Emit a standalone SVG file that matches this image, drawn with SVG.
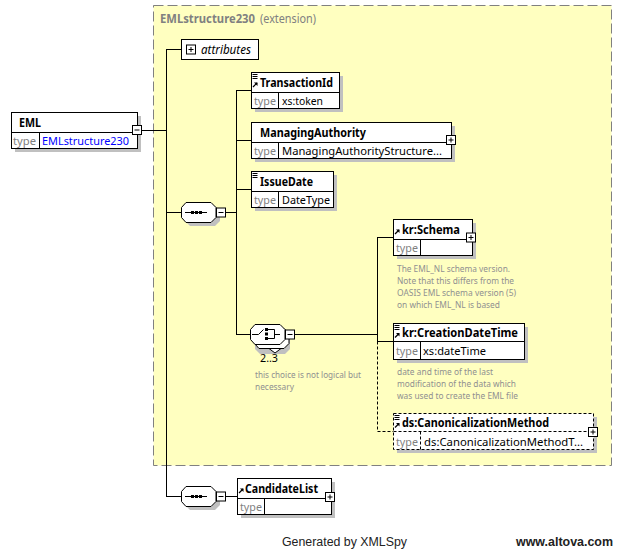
<svg xmlns="http://www.w3.org/2000/svg" width="622" height="549" viewBox="0 0 622 549">
<defs>
<style>
.bg{fill:#fff}
.box{fill:#fff;stroke:#000;stroke-width:1}
.dbox{fill:#fff;stroke:#000;stroke-width:1;stroke-dasharray:3,2}
.sh{fill:#c0c0c0}
.ln{stroke:#000;stroke-width:1;fill:none}
.dl{stroke:#000;stroke-width:1;fill:none;stroke-dasharray:3,2}
.nm{font-family:"Noto Sans","Liberation Sans",sans-serif;font-size:12px;font-weight:bold;fill:#000}
.tl{font-family:"Noto Sans","Liberation Sans",sans-serif;font-size:11.5px;fill:#808080}
.tv{font-family:"Noto Sans","Liberation Sans",sans-serif;font-size:11.5px;fill:#000}
.ann{font-family:"Noto Sans","Liberation Sans",sans-serif;font-size:9px;fill:#909090}
.ft{font-family:"Liberation Sans",Arial,sans-serif;font-size:12.5px;fill:#222}
</style>
<g id="plus"><rect x="0.5" y="0.5" width="9" height="9" class="box"/><path d="M2.5,5H7.5M5,2.5V7.5" class="ln"/></g>
<g id="minus"><rect x="0.5" y="0.5" width="9" height="9" class="box"/><path d="M2.5,5H7.5" class="ln"/></g>
<g id="lst"><path d="M0,0.5H5M0,2.5H5M0,4.5H5" stroke="#000" stroke-width="1"/></g>
<g id="ref"><path d="M0.5,5.5L4.5,1.5" stroke="#000" stroke-width="1.2"/><path d="M1.5,1H5V4.5Z" fill="#000"/></g>
</defs>
<rect width="622" height="549" class="bg"/>

<g id="extension">
<rect x="153.5" y="5.5" width="458" height="460" fill="#ffffc0" stroke="#808080" stroke-dasharray="10,4"/>
<text x="160" y="23" font-family="Noto Sans, Liberation Sans, sans-serif" font-size="12px" fill="#808080"><tspan font-weight="bold" textLength="95" lengthAdjust="spacingAndGlyphs">EMLstructure230</tspan><tspan x="260" textLength="56" lengthAdjust="spacingAndGlyphs">(extension)</tspan></text>
</g>

<g id="connectors">
<path class="ln" d="M142,130.5H166.5M166.5,49V496.5M166,49.5H181M166,212.5H181M166,496.5H181"/>
<path class="ln" d="M226,212.5H236.5M236.5,90V334.5M236,90.5H251M236,140.5H251M236,189.5H251M236,334.5H250"/>
<path class="ln" d="M295,334.5H377.5M377.5,237V341.5M377,237.5H393M377,341.5H393"/>
<path class="dl" d="M377.5,341.5V431.5H393"/>
<path class="ln" d="M226,496.5H237"/>
</g>

<g id="EML">
<rect x="15" y="116" width="126" height="36" class="sh"/>
<rect x="11.5" y="112.5" width="126" height="36" class="box"/>
<path class="ln" d="M11.5,132.5H137.5M39.5,132.5V148.5"/>
<text x="19" y="127" class="nm" textLength="22" lengthAdjust="spacingAndGlyphs">EML</text>
<text x="13" y="145" class="tl" textLength="23" lengthAdjust="spacingAndGlyphs">type</text>
<text x="42" y="145" class="tv" fill="#0000ff" style="fill:#0000ff" textLength="87" lengthAdjust="spacingAndGlyphs">EMLstructure230</text>
<use href="#minus" x="132" y="125"/>
</g>

<g id="attributes">
<rect x="181.5" y="39.5" width="77" height="20" class="box"/>
<use href="#plus" x="186" y="44.5"/>
<text x="201" y="53.5" font-family="Noto Sans, Liberation Sans, sans-serif" font-size="12px" font-style="italic" textLength="50" lengthAdjust="spacingAndGlyphs">attributes</text>
</g>

<g id="sequence1">
<path d="M190,206H215L220,211V221L215,226H190L185,221V211Z" class="sh"/>
<path d="M186,202.5H211L216,207.5V217.5L211,222.5H186L181.5,217.5V207.5Z" class="box"/>
<path class="ln" d="M185,212.5H207"/>
<rect x="191" y="211" width="3" height="3"/><rect x="195" y="211" width="3" height="3"/><rect x="199" y="211" width="3" height="3"/>
<use href="#minus" x="216" y="207.5"/>
</g>

<g id="TransactionId">
<rect x="255" y="76" width="88" height="36" class="sh"/>
<rect x="251.5" y="72.5" width="88" height="36" class="box"/>
<path class="ln" d="M251.5,92.5H339.5M278.5,92.5V108.5"/>
<use href="#lst" x="252.5" y="74"/>
<use href="#ref" x="252.5" y="81.5"/>
<text x="260" y="87" class="nm" textLength="73" lengthAdjust="spacingAndGlyphs">TransactionId</text>
<text x="254" y="105" class="tl" textLength="22" lengthAdjust="spacingAndGlyphs">type</text>
<text x="282" y="105" class="tv" textLength="41" lengthAdjust="spacingAndGlyphs">xs:token</text>
</g>

<g id="ManagingAuthority">
<rect x="255" y="126" width="200" height="36" class="sh"/>
<rect x="251.5" y="122.5" width="200" height="36" class="box"/>
<path class="ln" d="M251.5,142.5H451.5M278.5,142.5V158.5"/>
<text x="260" y="137" class="nm" textLength="106" lengthAdjust="spacingAndGlyphs">ManagingAuthority</text>
<text x="254" y="155" class="tl" textLength="22" lengthAdjust="spacingAndGlyphs">type</text>
<text x="282" y="155" class="tv" textLength="160" lengthAdjust="spacingAndGlyphs">ManagingAuthorityStructure...</text>
<use href="#plus" x="446" y="135"/>
</g>

<g id="IssueDate">
<rect x="255" y="175" width="82" height="36" class="sh"/>
<rect x="251.5" y="171.5" width="82" height="36" class="box"/>
<path class="ln" d="M251.5,191.5H333.5M278.5,191.5V207.5"/>
<use href="#lst" x="252.5" y="173"/>
<text x="260" y="186" class="nm" textLength="53" lengthAdjust="spacingAndGlyphs">IssueDate</text>
<text x="254" y="204" class="tl" textLength="22" lengthAdjust="spacingAndGlyphs">type</text>
<text x="282" y="204" class="tv" textLength="48" lengthAdjust="spacingAndGlyphs">DateType</text>
</g>

<g id="choice">
<path d="M260,334H285L290,339V349L285,354H260L255,349V339Z" class="sh"/>
<path d="M259,328.5H284L289,333.5V343.5L284,348.5H259L254.5,343.5V333.5Z" class="box"/>
<path d="M269,348.5L275,353L281,348.5Z" fill="#fff" stroke="#000"/>
<path d="M255,324.5H280L285,329.5V339.5L280,344.5H255L250.5,339.5V329.5Z" class="box"/>
<path class="ln" d="M252,334.5H258.5L263.5,329.5"/>
<rect x="265" y="328" width="3" height="3"/><rect x="265" y="332.5" width="3" height="3"/><rect x="265" y="337" width="3" height="3"/>
<path class="ln" d="M268,329.5H274.5V338.5H268M274.5,334.5H280"/>
<use href="#minus" x="285" y="329.5"/>
<text x="260" y="362" font-family="Noto Sans, Liberation Sans, sans-serif" font-size="11.5px" fill="#000" textLength="18" lengthAdjust="spacingAndGlyphs">2..3</text>
<text x="255" y="378" class="ann" textLength="106" lengthAdjust="spacingAndGlyphs">this choice is not logical but</text>
<text x="255" y="390" class="ann" textLength="39" lengthAdjust="spacingAndGlyphs">necessary</text>
</g>

<g id="kr_Schema">
<rect x="397" y="223" width="79" height="36" class="sh"/>
<rect x="393.5" y="219.5" width="79" height="36" class="box"/>
<path class="ln" d="M393.5,239.5H472.5M420.5,239.5V255.5"/>
<use href="#ref" x="394.5" y="228.5"/>
<text x="402" y="234" class="nm" textLength="58" lengthAdjust="spacingAndGlyphs">kr:Schema</text>
<text x="396" y="252" class="tl" textLength="22" lengthAdjust="spacingAndGlyphs">type</text>
<use href="#plus" x="466" y="232.5"/>
<text x="397" y="272" class="ann" textLength="113" lengthAdjust="spacingAndGlyphs">The EML_NL schema version.</text>
<text x="397" y="284" class="ann" textLength="117" lengthAdjust="spacingAndGlyphs">Note that this differs from the</text>
<text x="397" y="296" class="ann" textLength="119" lengthAdjust="spacingAndGlyphs">OASIS EML schema version (5)</text>
<text x="397" y="308" class="ann" textLength="103" lengthAdjust="spacingAndGlyphs">on which EML_NL is based</text>
</g>

<g id="kr_CreationDateTime">
<rect x="397" y="327" width="131" height="36" class="sh"/>
<rect x="393.5" y="323.5" width="131" height="36" class="box"/>
<path class="ln" d="M393.5,341.5H524.5M420.5,341.5V359.5"/>
<use href="#lst" x="394.5" y="325"/>
<use href="#ref" x="394.5" y="332"/>
<text x="402" y="337" class="nm" textLength="116" lengthAdjust="spacingAndGlyphs">kr:CreationDateTime</text>
<text x="396" y="355" class="tl" textLength="22" lengthAdjust="spacingAndGlyphs">type</text>
<text x="423" y="355" class="tv" textLength="63" lengthAdjust="spacingAndGlyphs">xs:dateTime</text>
<text x="397" y="375" class="ann" textLength="96" lengthAdjust="spacingAndGlyphs">date and time of the last</text>
<text x="397" y="387" class="ann" textLength="119" lengthAdjust="spacingAndGlyphs">modification of the data which</text>
<text x="397" y="399" class="ann" textLength="121" lengthAdjust="spacingAndGlyphs">was used to create the EML file</text>
</g>

<g id="ds_CanonicalizationMethod">
<rect x="397" y="417" width="200" height="36" class="sh"/>
<rect x="393.5" y="413.5" width="200" height="36" class="dbox"/>
<path class="dl" d="M393.5,431.5H593.5M420.5,431.5V449.5"/>
<use href="#lst" x="394.5" y="415"/>
<use href="#ref" x="394.5" y="422"/>
<text x="402" y="427" class="nm" textLength="147" lengthAdjust="spacingAndGlyphs">ds:CanonicalizationMethod</text>
<text x="396" y="446" class="tl" textLength="22" lengthAdjust="spacingAndGlyphs">type</text>
<text x="424" y="446" class="tv" textLength="159" lengthAdjust="spacingAndGlyphs">ds:CanonicalizationMethodT...</text>
<use href="#plus" x="588" y="427"/>
</g>

<g id="sequence2">
<path d="M190,490H215L220,495V505L215,510H190L185,505V495Z" class="sh"/>
<path d="M186,486.5H211L216,491.5V501.5L211,506.5H186L181.5,501.5V491.5Z" class="box"/>
<path class="ln" d="M185,496.5H207"/>
<rect x="191" y="495" width="3" height="3"/><rect x="195" y="495" width="3" height="3"/><rect x="199" y="495" width="3" height="3"/>
<use href="#minus" x="216" y="491.5"/>
</g>

<g id="CandidateList">
<rect x="241" y="482" width="94" height="36" class="sh"/>
<rect x="237.5" y="478.5" width="94" height="36" class="box"/>
<path class="ln" d="M237.5,498.5H331.5M264.5,498.5V514.5"/>
<use href="#ref" x="238.5" y="487.5"/>
<text x="245" y="493" class="nm" textLength="73" lengthAdjust="spacingAndGlyphs">CandidateList</text>
<text x="240" y="511" class="tl" textLength="22" lengthAdjust="spacingAndGlyphs">type</text>
<use href="#plus" x="325" y="492"/>
</g>

<g id="footer">
<text x="282" y="546" class="ft" textLength="125" lengthAdjust="spacingAndGlyphs">Generated by XMLSpy</text>
<text x="516" y="546" class="ft" font-weight="bold" textLength="97" lengthAdjust="spacingAndGlyphs">www.altova.com</text>
</g>
</svg>
